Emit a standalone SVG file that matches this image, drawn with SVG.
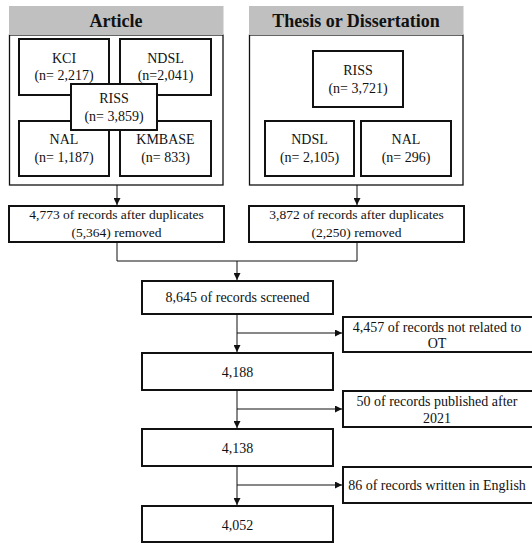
<svg xmlns="http://www.w3.org/2000/svg" width="532" height="543" viewBox="0 0 532 543">
<defs>
<style>
text{font-family:"Liberation Serif","Times New Roman",serif;font-size:14px;fill:#111;text-anchor:middle}
.hd{font-size:18px;font-weight:bold}
.sm{font-size:13.5px}
.panel{fill:#fff;stroke:#111;stroke-width:1.3}
.band{fill:#c0c0c0}
.box{fill:#fff;stroke:#111;stroke-width:2}
.ln{fill:none;stroke:#111;stroke-width:1}
</style>
<marker id="ah" viewBox="0 0 8 8" refX="8" refY="4" markerWidth="7" markerHeight="7" markerUnits="userSpaceOnUse" orient="auto"><path d="M0,0L8,4L0,8Z" fill="#111"/></marker>
</defs>
<g id="article">
<rect class="panel" x="9.5" y="35" width="213.5" height="150"/>
<rect class="band" x="9" y="6" width="214.5" height="29"/>
<text class="hd" x="116" y="27">Article</text>
</g>
<g id="kci"><rect class="box" x="19" y="39" width="90" height="56"/><text x="64" y="63">KCI</text><text x="64" y="80">(n= 2,217)</text></g>
<g id="ndsl-a"><rect class="box" x="120" y="39" width="91" height="56"/><text x="165.5" y="63">NDSL</text><text x="165.5" y="80">(n=2,041)</text></g>
<g id="nal-a"><rect class="box" x="19" y="121" width="90" height="55"/><text x="64" y="144">NAL</text><text x="64" y="162">(n= 1,187)</text></g>
<g id="kmbase"><rect class="box" x="120" y="121" width="91" height="55"/><text x="165.5" y="144">KMBASE</text><text x="165.5" y="162">(n= 833)</text></g>
<g id="riss-a"><rect class="box" x="71" y="84" width="86" height="46"/><text x="114" y="103">RISS</text><text x="114" y="121">(n= 3,859)</text></g>
<g id="thesis">
<rect class="panel" x="249.5" y="35" width="213.5" height="150"/>
<rect class="band" x="249" y="6" width="214.5" height="29"/>
<text class="hd" x="356" y="27">Thesis or Dissertation</text>
</g>
<g id="riss-t"><rect class="box" x="313" y="51" width="90" height="56"/><text x="358" y="75">RISS</text><text x="358" y="93">(n= 3,721)</text></g>
<g id="ndsl-t"><rect class="box" x="265" y="121" width="89" height="55"/><text x="309.5" y="144">NDSL</text><text x="309.5" y="162">(n= 2,105)</text></g>
<g id="nal-t"><rect class="box" x="361" y="121" width="90" height="55"/><text x="406" y="144">NAL</text><text x="406" y="162">(n= 296)</text></g>
<g id="dup-a"><rect class="box" x="9" y="206" width="215" height="36"/><text class="sm" x="116.5" y="219">4,773 of records after duplicates</text><text class="sm" x="116.5" y="237">(5,364) removed</text></g>
<g id="dup-t"><rect class="box" x="249" y="206" width="215" height="36"/><text class="sm" x="356.5" y="219">3,872 of records after duplicates</text><text class="sm" x="356.5" y="237">(2,250) removed</text></g>
<g id="screened"><rect class="box" x="142" y="281" width="191" height="33"/><text x="237.5" y="302">8,645 of records screened</text></g>
<g id="n4188"><rect class="box" x="142" y="353" width="191" height="37"/><text x="237.5" y="377">4,188</text></g>
<g id="n4138"><rect class="box" x="142" y="429" width="191" height="37"/><text x="237.5" y="453">4,138</text></g>
<g id="n4052"><rect class="box" x="142" y="506" width="191" height="36"/><text x="237.5" y="530">4,052</text></g>
<g id="ex1"><rect class="box" x="343" y="317" width="200" height="35"/><text x="437" y="332">4,457 of records not related to</text><text x="437" y="348">OT</text></g>
<g id="ex2"><rect class="box" x="343" y="391" width="200" height="36"/><text x="437" y="406">50 of records published after</text><text x="437" y="423">2021</text></g>
<g id="ex3"><rect class="box" x="343" y="467" width="200" height="36"/><text x="437" y="490">86 of records written in English</text></g>
<g id="connectors">
<path class="ln" d="M117,185V205" marker-end="url(#ah)"/>
<path class="ln" d="M357,185V205" marker-end="url(#ah)"/>
<path class="ln" d="M117,242V261H357V242"/>
<path class="ln" d="M237,261V280" marker-end="url(#ah)"/>
<path class="ln" d="M237,314V352" marker-end="url(#ah)"/>
<path class="ln" d="M237,333H342" marker-end="url(#ah)"/>
<path class="ln" d="M237,390V428" marker-end="url(#ah)"/>
<path class="ln" d="M237,409H342" marker-end="url(#ah)"/>
<path class="ln" d="M237,466V505" marker-end="url(#ah)"/>
<path class="ln" d="M237,485H342" marker-end="url(#ah)"/>
</g>
</svg>
